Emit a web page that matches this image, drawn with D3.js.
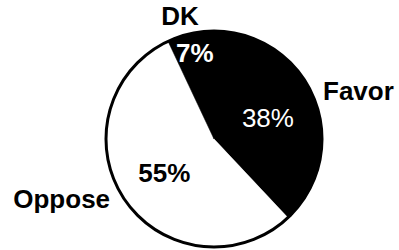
<!DOCTYPE html>
<html>
<head>
<meta charset="utf-8">
<script src="https://cdn.jsdelivr.net/npm/d3@7/dist/d3.min.js"></script>
<style>
  html, body { margin: 0; padding: 0; background: #fff; }
  svg { display: block; }
  text { font-family: "Liberation Sans", Arial, Helvetica, sans-serif; }
</style>
</head>
<body>
<svg id="chart" width="399" height="250"></svg>
<script>
// ---- data ----
const categories = ["Favor", "Oppose", "DK"];
const values = [38, 55, 7];
const valueLabels = ["38%", "55%", "7%"];

// ---- styling / layout (not data) ----
const sliceFill = ["#000000", "#ffffff", "#000000"];
const valueColor = ["#ffffff", "#000000", "#ffffff"];
const valueWeight = ["normal", "bold", "bold"];
const valueRadius = [58, 60, 88];
// outer category labels: polar position (degrees clockwise from 12 o'clock), radius, anchor
const catAngle = [70.3, 236.4, 343.4];
const catRadius = [115.8, 124.8, 119];
const catAnchor = ["start", "end", "middle"];

const W = 399, H = 250;
const cx = 214, cy = 139, R = 108;
const fontSize = 26;

const svg = d3.select("#chart");
const g = svg.append("g").attr("transform", `translate(${cx},${cy})`);

const pie = d3.pie().sort(null).value(d => d).startAngle(0).endAngle(2 * Math.PI);
const arcs = pie(values);
const arc = d3.arc().innerRadius(0).outerRadius(R);

g.selectAll("path.slice")
  .data(arcs)
  .join("path")
  .attr("class", "slice")
  .attr("d", arc)
  .attr("fill", (d, i) => sliceFill[i])
  .attr("stroke", (d, i) => sliceFill[i])
  .attr("stroke-width", 0.5);

// outline
g.append("circle")
  .attr("r", R)
  .attr("fill", "none")
  .attr("stroke", "#000")
  .attr("stroke-width", 3);

// value labels
g.selectAll("text.val")
  .data(arcs)
  .join("text")
  .attr("class", "val")
  .attr("x", (d, i) => valueRadius[i] * Math.sin((d.startAngle + d.endAngle) / 2))
  .attr("y", (d, i) => -valueRadius[i] * Math.cos((d.startAngle + d.endAngle) / 2))
  .attr("dy", "0.35em")
  .attr("text-anchor", "middle")
  .attr("font-size", fontSize)
  .attr("font-weight", (d, i) => valueWeight[i])
  .attr("fill", (d, i) => valueColor[i])
  .text((d, i) => valueLabels[i]);

// category labels
g.selectAll("text.cat")
  .data(categories)
  .join("text")
  .attr("class", "cat")
  .attr("x", (d, i) => catRadius[i] * Math.sin(catAngle[i] * Math.PI / 180))
  .attr("y", (d, i) => -catRadius[i] * Math.cos(catAngle[i] * Math.PI / 180))
  .attr("text-anchor", (d, i) => catAnchor[i])
  .attr("font-size", fontSize)
  .attr("font-weight", "bold")
  .attr("fill", "#000")
  .text(d => d);
</script>
</body>
</html>
